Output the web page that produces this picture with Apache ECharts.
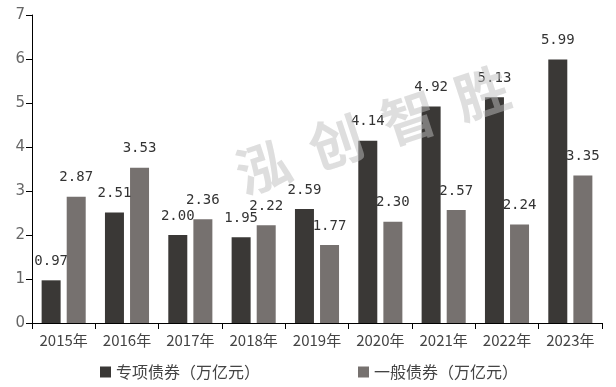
<!DOCTYPE html>
<html>
<head>
<meta charset="utf-8">
<script src="https://cdn.jsdelivr.net/npm/echarts@6/dist/echarts.min.js"></script>
<style>
html,body{margin:0;padding:0;background:#fff;}
#chart{width:616px;height:387px;}
</style>
</head>
<body>
<div id="chart"></div>
<script>
var categories = ['2015年','2016年','2017年','2018年','2019年','2020年','2021年','2022年','2023年'];
var specialBonds = [0.97, 2.51, 2.00, 1.95, 2.59, 4.14, 4.92, 5.13, 5.99];
var generalBonds = [2.87, 3.53, 2.36, 2.22, 1.77, 2.30, 2.57, 2.24, 3.35];
var seriesNames = ['专项债券（万亿元）', '一般债券（万亿元）'];
var yTicks = [0, 1, 2, 3, 4, 5, 6, 7];
var watermarkChars = ['泓', '创', '智', '胜'];

var chart = echarts.init(document.getElementById('chart'), null, {renderer: 'canvas'});

var labelStyle = {
  show: true,
  position: 'top',
  distance: 12,
  fontFamily: 'DejaVu Sans Mono',
  fontSize: 14,
  color: '#333',
  formatter: function (p) { return p.value.toFixed(2); }
};

var wm = watermarkChars.map(function (c, i) {
  return {
    type: 'text',
    x: 263 + i * 73,
    y: 167 - i * 24.7,
    rotation: 0.32,
    style: {
      text: c,
      font: 'bold 54px "Noto Sans CJK SC"',
      fill: 'rgba(190,190,190,0.5)',
      align: 'center',
      verticalAlign: 'middle'
    },
    z: 3
  };
});

chart.setOption({
  animation: false,
  grid: {left: 32, right: 14, top: 15, bottom: 64, containLabel: false},
  legend: {
    data: seriesNames,
    left: 95,
    top: 359,
    itemWidth: 11,
    itemHeight: 11,
    itemGap: 98,
    icon: 'rect',
    textStyle: {fontFamily: 'Noto Sans CJK SC', fontSize: 16, color: '#444'}
  },
  xAxis: {
    type: 'category',
    data: categories,
    axisLine: {lineStyle: {color: '#000', width: 1}},
    axisTick: {show: true, length: 6, alignWithLabel: false, lineStyle: {color: '#000'}},
    axisLabel: {fontFamily: 'Noto Sans CJK SC', fontSize: 15, color: '#444', margin: 10}
  },
  yAxis: {
    type: 'value',
    min: yTicks[0],
    max: yTicks[yTicks.length - 1],
    interval: 1,
    axisLine: {show: true, lineStyle: {color: '#000', width: 1}},
    axisTick: {show: true, length: 6, lineStyle: {color: '#000'}},
    splitLine: {show: false},
    axisLabel: {fontFamily: 'DejaVu Sans', fontSize: 15, color: '#666', margin: 7}
  },
  series: [
    {
      name: seriesNames[0],
      type: 'bar',
      data: specialBonds,
      barWidth: '30%',
      barGap: '32%',
      itemStyle: {color: '#3a3836'},
      label: labelStyle
    },
    {
      name: seriesNames[1],
      type: 'bar',
      data: generalBonds,
      barWidth: '30%',
      barGap: '32%',
      itemStyle: {color: '#76716f'},
      label: labelStyle
    }
  ],
  graphic: wm
});
</script>
</body>
</html>
